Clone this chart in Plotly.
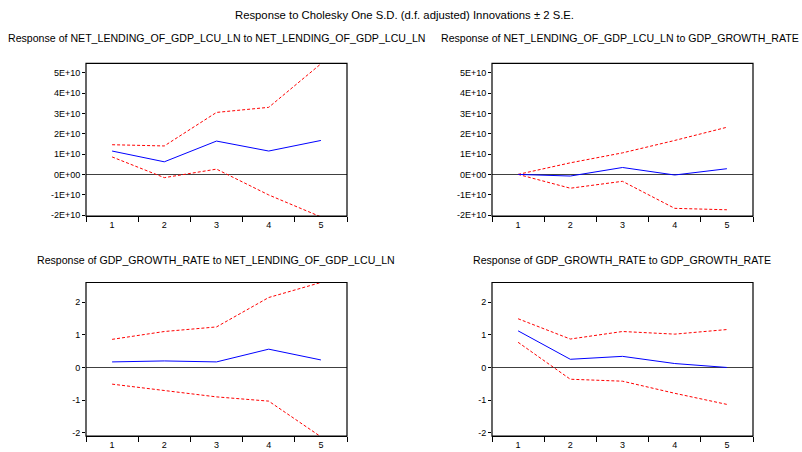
import plotly.graph_objects as go

W, H = 802, 452

periods = [1, 2, 3, 4, 5]

# Response of NET_LENDING_OF_GDP_LCU_LN to NET_LENDING_OF_GDP_LCU_LN
nl_nl = [1.15e10, 0.62e10, 1.64e10, 1.15e10, 1.67e10]
nl_nl_up = [1.46e10, 1.40e10, 3.05e10, 3.30e10, 5.44e10]
nl_nl_lo = [0.86e10, -0.16e10, 0.26e10, -1.01e10, -2.09e10]

# Response of NET_LENDING_OF_GDP_LCU_LN to GDP_GROWTH_RATE
nl_gr = [0.0, -0.08e10, 0.34e10, -0.03e10, 0.28e10]
nl_gr_up = [0.0, 0.57e10, 1.06e10, 1.67e10, 2.32e10]
nl_gr_lo = [0.0, -0.68e10, -0.34e10, -1.67e10, -1.74e10]

# Response of GDP_GROWTH_RATE to NET_LENDING_OF_GDP_LCU_LN
gr_nl = [0.17, 0.20, 0.17, 0.56, 0.23]
gr_nl_up = [0.86, 1.10, 1.24, 2.14, 2.60]
gr_nl_lo = [-0.51, -0.71, -0.90, -1.03, -2.12]

# Response of GDP_GROWTH_RATE to GDP_GROWTH_RATE
gr_gr = [1.12, 0.25, 0.34, 0.12, 0.0]
gr_gr_up = [1.49, 0.87, 1.10, 1.02, 1.16]
gr_gr_lo = [0.77, -0.36, -0.42, -0.79, -1.13]

big_ticks = [-2e10, -1e10, 0, 1e10, 2e10, 3e10, 4e10, 5e10]
big_labels = ["-2E+10", "-1E+10", "0E+00", "1E+10", "2E+10", "3E+10", "4E+10", "5E+10"]
small_ticks = [-2, -1, 0, 1, 2]
small_labels = ["-2", "-1", "0", "1", "2"]

titles = [
    "Response of NET_LENDING_OF_GDP_LCU_LN to NET_LENDING_OF_GDP_LCU_LN",
    "Response of NET_LENDING_OF_GDP_LCU_LN to GDP_GROWTH_RATE",
    "Response of GDP_GROWTH_RATE to NET_LENDING_OF_GDP_LCU_LN",
    "Response of GDP_GROWTH_RATE to GDP_GROWTH_RATE",
]
main_title = "Response to Cholesky One S.D. (d.f. adjusted) Innovations \u00b1 2 S.E."

FONT = "Liberation Sans, Arial, sans-serif"

# panel boxes in pixels: (left, right, top, bottom)
boxes = [(86, 347, 64, 218), (492, 753, 64, 218), (86, 347, 285, 440), (492, 753, 285, 440)]
panels = [
    (nl_nl, nl_nl_up, nl_nl_lo, [-2.05e10, 5.46e10], big_ticks, big_labels),
    (nl_gr, nl_gr_up, nl_gr_lo, [-2.05e10, 5.46e10], big_ticks, big_labels),
    (gr_nl, gr_nl_up, gr_nl_lo, [-2.1, 2.6], small_ticks, small_labels),
    (gr_gr, gr_gr_up, gr_gr_lo, [-2.1, 2.6], small_ticks, small_labels),
]
title_pos = [(216, 38), (620, 38), (216, 262), (622, 262)]

fig = go.Figure()
layout = dict(
    width=W, height=H,
    margin=dict(l=0, r=0, t=0, b=0),
    paper_bgcolor="white", plot_bgcolor="white",
    showlegend=False,
    font=dict(family=FONT, color="black", size=9),
    shapes=[], annotations=[],
)

for i, ((l, r, t, b), (mid, up, lo, yr, tv, tt)) in enumerate(zip(boxes, panels)):
    n = i + 1
    xa = "x" if n == 1 else f"x{n}"
    ya = "y" if n == 1 else f"y{n}"
    xkey = "xaxis" if n == 1 else f"xaxis{n}"
    ykey = "yaxis" if n == 1 else f"yaxis{n}"
    for ys, col, dash in [(up, "#ff0000", "3px,2px"), (lo, "#ff0000", "3px,2px"), (mid, "#0000ff", "solid")]:
        fig.add_trace(go.Scatter(
            x=periods, y=ys, mode="lines", xaxis=xa, yaxis=ya,
            line=dict(color=col, width=1, dash=dash), cliponaxis=True,
            hoverinfo="skip",
        ))
    xdom = [l / W, r / W]
    ydom = [1 - b / H, 1 - t / H]
    layout[xkey] = dict(
        domain=xdom, range=[0.5, 5.5], anchor=ya,
        showline=True, linecolor="black", linewidth=1,
        showgrid=False, zeroline=False,
        tickmode="array", tickvals=periods, ticktext=[str(p) for p in periods],
        ticks="", tickfont=dict(size=9, family=FONT),
        minor=dict(tickmode="array", tickvals=[0.5, 1.5, 2.5, 3.5, 4.5, 5.5],
                   ticks="outside", ticklen=5, tickcolor="black", tickwidth=1),
        fixedrange=True,
    )
    layout[ykey] = dict(
        domain=ydom, range=yr, anchor=xa,
        showline=False, showgrid=False,
        zeroline=True, zerolinecolor="#404040", zerolinewidth=1,
        tickmode="array", tickvals=tv, ticktext=tt,
        ticks="outside", ticklen=3, tickcolor="black", tickwidth=1,
        tickfont=dict(size=9, family=FONT),
        fixedrange=True,
    )
    layout["shapes"].append(dict(
        type="rect", xref="paper", yref="paper",
        x0=xdom[0], x1=xdom[1], y0=ydom[0], y1=ydom[1],
        line=dict(color="black", width=1.2), fillcolor="rgba(0,0,0,0)", layer="above",
    ))
    cx, cy = title_pos[i]
    layout["annotations"].append(dict(
        text=titles[i], x=cx / W, y=1 - cy / H, xref="paper", yref="paper",
        showarrow=False, xanchor="center", yanchor="middle",
        font=dict(size=10.6, family=FONT, color="black"),
    ))

layout["annotations"].append(dict(
    text=main_title, x=404 / W, y=1 - 15 / H, xref="paper", yref="paper",
    showarrow=False, xanchor="center", yanchor="middle",
    font=dict(size=11.3, family=FONT, color="black"),
))

fig.update_layout(**layout)
fig.write_html("out.html")
